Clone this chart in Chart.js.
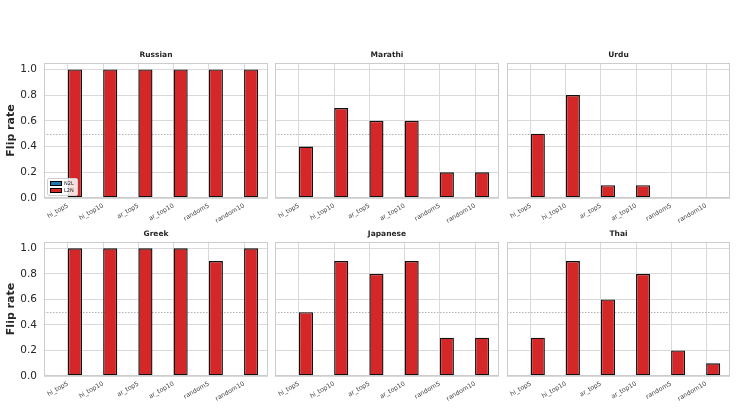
<!DOCTYPE html>
<html>
<head>
<meta charset="utf-8">
<script src="https://cdn.jsdelivr.net/npm/chart.js@4.4.1/dist/chart.umd.min.js"></script>
<style>
  body { margin: 0; background: #fff; width: 737px; height: 409px; overflow: hidden; position: relative; font-family: "DejaVu Sans", sans-serif; }
  canvas { position: absolute; }
  .legend { position: absolute; z-index: 5; border: 1px solid #d0d0d0; border-radius: 2px; background: rgba(255,255,255,0.85);
            padding: 1px 3px 1px 2px; font-size: 5px; line-height: 7px; color: #262626; }
  .legend .sw { display: inline-block; width: 10px; height: 3px; border: 1px solid #000; margin-right: 2px; vertical-align: middle; }
</style>
</head>
<body>
<div class="legend" style="left:47px;top:178px">
  <div><span class="sw" style="background:#1f77b4"></span>N2L</div>
  <div><span class="sw" style="background:#d62728"></span>L2N</div>
</div>
<script>
// categories and tick labels
const CATS = ['hi_top5', 'hi_top10', 'ar_top5', 'ar_top10', 'random5', 'random10'];
const YTICKS = [0, 0.2, 0.4, 0.6, 0.8, 1.0];
const LANGS = ['Russian', 'Marathi', 'Urdu', 'Greek', 'Japanese', 'Thai'];

// flip rates, native->latin (all zero in every panel)
const N2L = [0, 0, 0, 0, 0, 0];
// flip rates, latin->native
const L2N_RUSSIAN  = [1.0, 1.0, 1.0, 1.0, 1.0, 1.0];
const L2N_MARATHI  = [0.4, 0.7, 0.6, 0.6, 0.2, 0.2];
const L2N_URDU     = [0.5, 0.8, 0.1, 0.1, 0.0, 0.0];
const L2N_GREEK    = [1.0, 1.0, 1.0, 1.0, 0.9, 1.0];
const L2N_JAPANESE = [0.5, 0.9, 0.8, 0.9, 0.3, 0.3];
const L2N_THAI     = [0.3, 0.9, 0.6, 0.8, 0.2, 0.1];
const L2N = [L2N_RUSSIAN, L2N_MARATHI, L2N_URDU, L2N_GREEK, L2N_JAPANESE, L2N_THAI];

Chart.defaults.font.family = '"DejaVu Sans", sans-serif';
Chart.defaults.animation = false;

// plot-area boxes in page pixels
const COL_L = [44, 275, 507];
const COL_R = [268, 499, 730];
const ROW_T = [63, 242];
const ROW_B = [198, 376];
const TITLE_H = 13;
const XAXIS_H = 32;
const PAD_R = 3;

const frame = {
    id: 'frame',
    beforeDatasetsDraw(chart) {
        const { ctx, chartArea: a, scales: { y } } = chart;
        const yy = Math.round(y.getPixelForValue(0.5)) + 0.5;
        ctx.save();
        ctx.strokeStyle = '#a0a0a0';
        ctx.lineWidth = 0.8;
        ctx.setLineDash([1.5, 1.5]);
        ctx.beginPath();
        ctx.moveTo(a.left, yy);
        ctx.lineTo(a.right, yy);
        ctx.stroke();
        ctx.restore();
    },
    afterDraw(chart) {
        const { ctx, chartArea: a } = chart;
        ctx.save();
        ctx.strokeStyle = '#cccccc';
        ctx.lineWidth = 1;
        ctx.strokeRect(Math.round(a.left) + 0.5, Math.round(a.top) + 0.5,
                       Math.round(a.right - a.left) - 1, Math.round(a.bottom - a.top) - 1);
        ctx.restore();
    }
};

LANGS.forEach((lang, k) => {
    const col = k % 3, row = Math.floor(k / 3);
    const yw = col === 0 ? 44 : 4;
    const plotW = COL_R[col] - COL_L[col];
    const plotH = ROW_B[row] - ROW_T[row];

    const cv = document.createElement('canvas');
    cv.width = yw + plotW + PAD_R;
    cv.height = TITLE_H + plotH + XAXIS_H;
    cv.style.left = (COL_L[col] - yw) + 'px';
    cv.style.top = (ROW_T[row] - TITLE_H) + 'px';
    document.body.appendChild(cv);

    new Chart(cv, {
        type: 'bar',
        data: {
            datasets: [
                { label: 'N2L', data: N2L.map((v, i) => ({ x: i, y: v })), backgroundColor: '#1f77b4' },
                { label: 'L2N', data: L2N[k].map((v, i) => ({ x: i, y: v })), backgroundColor: '#d62728' },
            ],
        },
        options: {
            responsive: false,
            layout: { padding: { left: 0, right: PAD_R, top: 0, bottom: 0 } },
            datasets: {
                bar: {
                    categoryPercentage: 0.8,
                    barPercentage: 1.0,
                    borderColor: '#111',
                    borderWidth: 1.4,
                    borderSkipped: false,
                },
            },
            plugins: {
                legend: { display: false },
                tooltip: { enabled: false },
                title: {
                    display: true,
                    text: lang,
                    fullSize: false,
                    color: '#262626',
                    font: { size: 7.5, weight: 'bold', lineHeight: 1.25 },
                    padding: { top: 0, bottom: 3.6 },
                },
            },
            scales: {
                x: {
                    type: 'linear',
                    min: -0.68,
                    max: 5.68,
                    offset: false,
                    afterBuildTicks: s => { s.ticks = CATS.map((c, i) => ({ value: i })); },
                    afterFit: s => { s.height = XAXIS_H; s.paddingLeft = 0; s.paddingRight = 0; },
                    grid: { color: '#d9d9d9', lineWidth: 1, drawTicks: false, offset: false },
                    border: { display: false },
                    ticks: {
                        callback: v => CATS[v],
                        autoSkip: false,
                        minRotation: 30,
                        maxRotation: 30,
                        padding: 4,
                        color: '#444',
                        font: { size: 6.3 },
                    },
                },
                y: {
                    min: 0,
                    max: 1.05,
                    afterBuildTicks: s => { s.ticks = YTICKS.map(v => ({ value: v })); },
                    afterFit: s => { s.width = yw; s.paddingTop = 0; s.paddingBottom = 0; },
                    grid: { color: '#d9d9d9', lineWidth: 1, drawTicks: false },
                    border: { display: false },
                    ticks: {
                        display: col === 0,
                        callback: v => v.toFixed(1),
                        padding: 7,
                        color: '#262626',
                        font: { size: 10.5 },
                    },
                    title: {
                        display: col === 0,
                        text: 'Flip rate',
                        color: '#262626',
                        font: { size: 11, weight: 'bold' },
                        padding: { top: 5, bottom: 0 },
                    },
                },
            },
        },
        plugins: [frame],
    });
});
</script>
</body>
</html>
